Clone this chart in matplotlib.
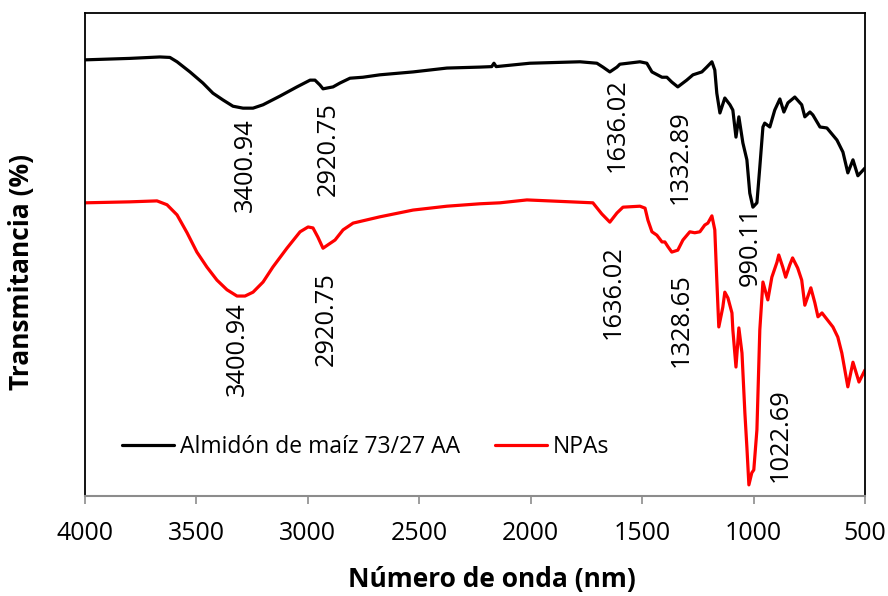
import matplotlib
matplotlib.use("Agg")
import matplotlib.pyplot as plt

# FTIR spectra: wavenumber vs. transmittance (arbitrary offset units)
wn_almidon = [4000, 3800, 3664, 3619, 3587, 3529, 3471, 3426, 3381, 3336, 3291, 3246,
              3201, 3125, 3049, 2990, 2968, 2946, 2932, 2910, 2887, 2856, 2811, 2753,
              2677, 2528, 2376, 2228, 2175, 2165, 2155, 2004, 1779, 1703, 1676, 1645,
              1613, 1600, 1510, 1479, 1456, 1411, 1389, 1367, 1340, 1300, 1272, 1232,
              1210, 1187, 1174, 1165, 1151, 1129, 1106, 1093, 1079, 1066, 1048, 1030,
              1017, 1003, 985, 972, 958, 950, 927, 905, 882, 864, 846, 815, 784, 770,
              747, 734, 702, 671, 626, 599, 577, 554, 532, 500]
tr_almidon = [90.3, 90.6, 90.9, 90.8, 89.9, 87.8, 85.5, 83.4, 82.0, 80.7, 80.3, 80.3,
              81.0, 82.8, 84.7, 86.1, 86.1, 85.1, 84.3, 84.5, 84.7, 85.5, 86.5, 86.7,
              87.2, 87.8, 88.6, 88.8, 88.9, 89.6, 88.9, 89.6, 89.9, 89.6, 88.8, 87.8,
              88.8, 89.4, 89.9, 89.6, 87.8, 86.7, 86.7, 85.7, 84.7, 86.1, 87.2, 87.8,
              88.8, 89.9, 88.2, 83.4, 79.3, 82.4, 81.0, 79.9, 74.3, 78.5, 73.1, 69.6,
              62.7, 59.8, 60.7, 68.1, 76.4, 77.2, 76.4, 79.9, 82.2, 79.5, 81.4, 82.6,
              81.0, 78.5, 79.5, 78.9, 76.4, 76.2, 73.7, 71.2, 66.9, 69.6, 66.3, 67.9]

wn_npas = [4000, 3800, 3677, 3632, 3587, 3542, 3498, 3453, 3408, 3363, 3318, 3282,
           3246, 3201, 3157, 3094, 3035, 2999, 2977, 2955, 2932, 2910, 2878, 2842,
           2797, 2677, 2528, 2376, 2228, 2138, 2017, 1721, 1681, 1645, 1613, 1586,
           1510, 1487, 1474, 1456, 1434, 1411, 1398, 1384, 1367, 1340, 1317, 1286,
           1264, 1241, 1219, 1205, 1187, 1174, 1165, 1156, 1138, 1129, 1115, 1097,
           1093, 1079, 1066, 1052, 1039, 1030, 1021, 1008, 999, 985, 972, 958, 936,
           918, 895, 887, 869, 856, 838, 825, 802, 784, 770, 743, 725, 711, 693, 644,
           622, 604, 577, 554, 527, 500]
tr_npas = [60.7, 60.9, 61.1, 60.3, 58.2, 54.5, 50.5, 47.4, 44.7, 42.7, 41.4, 41.4,
           42.2, 44.3, 47.4, 51.3, 54.7, 55.7, 55.5, 53.6, 51.3, 52.0, 53.0, 55.1,
           56.5, 57.8, 59.2, 60.0, 60.5, 60.7, 61.3, 60.7, 58.4, 56.7, 58.6, 59.8,
           60.0, 59.6, 57.1, 54.7, 54.0, 52.6, 52.6, 51.6, 50.5, 50.9, 53.0, 54.7,
           54.5, 54.7, 56.1, 56.5, 58.0, 55.1, 44.7, 35.0, 39.1, 42.2, 41.0, 37.9,
           34.4, 26.7, 34.8, 29.6, 17.2, 10.1, 2.3, 4.8, 5.4, 13.7, 34.4, 44.3, 40.6,
           45.3, 48.4, 49.9, 47.4, 45.3, 47.8, 49.3, 47.2, 44.7, 39.5, 43.1, 40.0, 37.1,
           37.9, 35.0, 32.9, 29.6, 22.6, 27.7, 23.6, 26.1]

series_names = ["Almidón de maíz 73/27 AA", "NPAs"]
series_colors = ["#000000", "#FF0000"]

peaks_almidon = ["3400.94", "2920.75", "1636.02", "1332.89", "990.11"]
peaks_npas = ["3400.94", "2920.75", "1636.02", "1328.65", "1022.69"]

x_ticks = [4000, 3500, 3000, 2500, 2000, 1500, 1000, 500]

# label placement (x in wavenumber, y = top of the rotated text)
pos_almidon = [(3282, 78.3), (2910, 81.6), (1613, 86.5), (1330, 79.9), (1016, 59.8)]
pos_npas = [(3318, 40.2), (2919, 46.4), (1631, 52.0), (1326, 46.2), (881, 22.4)]

FONT = "Open Sans"
plt.rcParams["font.family"] = [FONT, "DejaVu Sans"]

fig = plt.figure(figsize=(8.88, 5.96), dpi=100)
ax = fig.add_axes([85 / 888, 1 - 496 / 596, 780 / 888, 483 / 596])

ax.plot(wn_almidon, tr_almidon, color=series_colors[0], lw=2.3,
        solid_joinstyle="round", solid_capstyle="round", label=series_names[0])
ax.plot(wn_npas, tr_npas, color=series_colors[1], lw=2.3,
        solid_joinstyle="round", solid_capstyle="round", label=series_names[1])

for txt, (x, y) in zip(peaks_almidon, pos_almidon):
    ax.text(x, y, txt, rotation=90, ha="center", va="top", fontsize=18.3)
for txt, (x, y) in zip(peaks_npas, pos_npas):
    ax.text(x, y, txt, rotation=90, ha="center", va="top", fontsize=18.3)

ax.set_xlim(4000, 500)
ax.set_ylim(0, 100)
ax.set_xticks(x_ticks)
ax.set_xticklabels([str(t) for t in x_ticks], fontsize=18)
ax.set_yticks([])
ax.tick_params(axis="x", direction="out", length=6, width=1.2, color="#8c8c8c", pad=12)

for side in ["top", "right", "left"]:
    ax.spines[side].set_color("#000000")
    ax.spines[side].set_linewidth(1.3)
ax.spines["bottom"].set_color("#8c8c8c")
ax.spines["bottom"].set_linewidth(1.5)

fig.text(492 / 888, 1 - 580 / 596, "Número de onda (nm)", ha="center", va="center",
         fontsize=19, fontweight="bold")
fig.text(22 / 888, 1 - 272 / 596, "Transmitancia (%)", ha="center", va="center",
         rotation=90, fontsize=19, fontweight="bold")

ax.legend(loc="center left", bbox_to_anchor=(0.047, 0.101), ncol=2, frameon=False,
          fontsize=16.5, handlelength=2.3, handletextpad=0.25, columnspacing=1.5,
          borderaxespad=0, borderpad=0)

fig.savefig("out.png", dpi=100)
